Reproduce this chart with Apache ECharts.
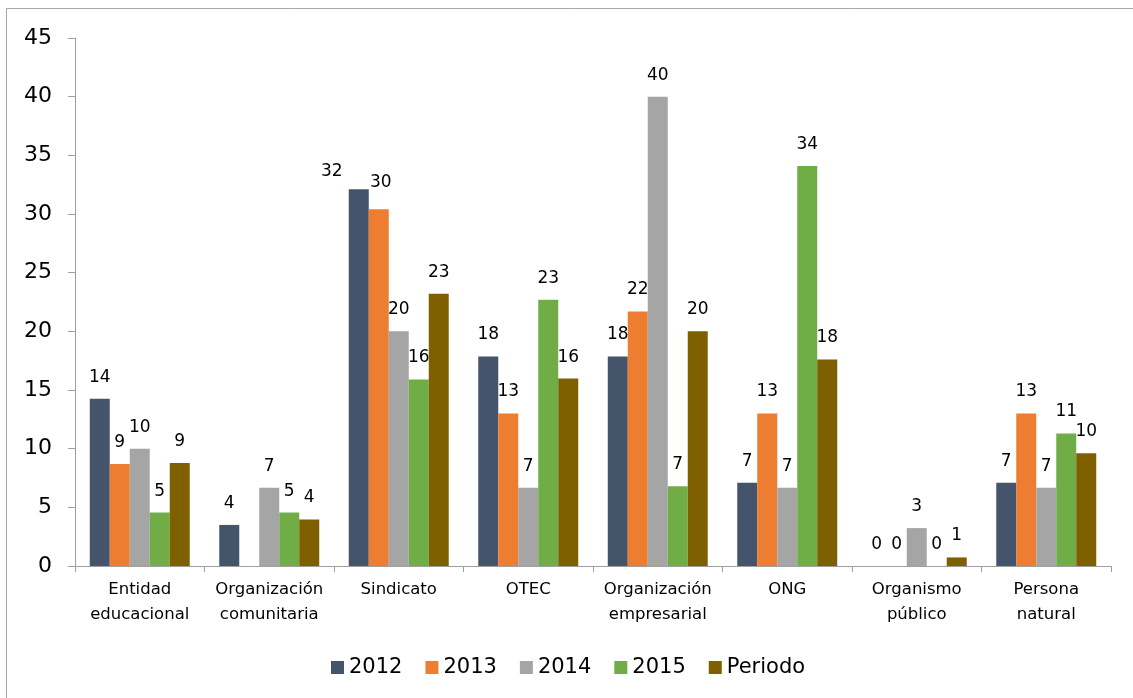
<!DOCTYPE html>
<html>
<head>
<meta charset="utf-8">
<script src="https://cdn.jsdelivr.net/npm/echarts@6/dist/echarts.min.js"></script>
<style>
html,body{margin:0;padding:0;background:#fff;}
#chart{width:1133px;height:698px;}
</style>
</head>
<body>
<div id="chart"></div>
<script>
var categories = ['Entidad\neducacional', 'Organización\ncomunitaria', 'Sindicato', 'OTEC', 'Organización\nempresarial', 'ONG', 'Organismo\npúblico', 'Persona\nnatural'];
var seriesNames = ['2012', '2013', '2014', '2015', 'Periodo'];
var v2012 = [14.25, 3.5, 32.1, 17.85, 17.85, 7.1, 0, 7.1];
var v2013 = [8.7, null, 30.4, 13.0, 21.7, 13.0, 0, 13.0];
var v2014 = [10.0, 6.67, 20.0, 6.67, 40.0, 6.67, 3.23, 6.67];
var v2015 = [4.55, 4.55, 15.9, 22.7, 6.8, 34.1, 0, 11.3];
var vPeriodo = [8.77, 3.97, 23.2, 15.97, 20.0, 17.6, 0.73, 9.6];
var yTicks = [0, 5, 10, 15, 20, 25, 30, 35, 40, 45];

var allValues = [v2012, v2013, v2014, v2015, vPeriodo];
var colors = ['#44546A', '#ED7D31', '#A5A5A5', '#70AD47', '#7F6000'];

var chart = echarts.init(document.getElementById('chart'), null, {renderer: 'canvas'});

function buildData(si) {
  return allValues[si].map(function (v, ci) {
    var item = {value: v};
    if (si === 0 && ci === 2) {
      item.label = {offset: [-27, 4]};
    }
    if (si === 1 && ci === 2) {
      item.label = {offset: [2, -5]};
    }
    return item;
  });
}

var series = seriesNames.map(function (name, si) {
  return {
    name: name,
    type: 'bar',
    barGap: '0%',
    barCategoryGap: '22.8%',
    itemStyle: {color: colors[si]},
    label: {
      show: true,
      position: 'top',
      distance: 13,
      color: '#000',
      fontFamily: 'DejaVu Sans',
      fontSize: 17,
      formatter: function (p) {
        if (p.value === null || p.value === undefined) return '';
        return String(Math.round(p.value));
      }
    },
    data: buildData(si)
  };
});

var option = {
  backgroundColor: '#fff',
  animation: false,
  textStyle: {fontFamily: 'DejaVu Sans'},
  graphic: [{
    type: 'line',
    shape: {x1: 6.5, y1: 8.5, x2: 1133, y2: 8.5},
    style: {stroke: '#A6A6A6', lineWidth: 1},
    silent: true
  }, {
    type: 'line',
    shape: {x1: 6.5, y1: 8.5, x2: 6.5, y2: 698},
    style: {stroke: '#A6A6A6', lineWidth: 1},
    silent: true
  }],
  grid: {left: 75, right: 22, top: 38, bottom: 132, containLabel: false},
  legend: {
    data: seriesNames,
    left: 326,
    top: 652,
    itemWidth: 13,
    itemHeight: 13,
    itemGap: 23,
    icon: 'rect',
    textStyle: {fontFamily: 'DejaVu Sans', fontSize: 21, color: '#000'}
  },
  xAxis: {
    type: 'category',
    data: categories,
    axisLine: {lineStyle: {color: '#A0A0A0', width: 1}},
    axisTick: {show: true, alignWithLabel: false, length: 6, lineStyle: {color: '#A0A0A0'}},
    axisLabel: {
      interval: 0,
      margin: 11,
      color: '#000',
      fontFamily: 'DejaVu Sans',
      fontSize: 16.5,
      lineHeight: 25
    }
  },
  yAxis: {
    type: 'value',
    min: yTicks[0],
    max: yTicks[yTicks.length - 1],
    interval: 5,
    splitLine: {show: false},
    axisLine: {show: true, lineStyle: {color: '#A0A0A0', width: 1}},
    axisTick: {show: true, length: 7, lineStyle: {color: '#A0A0A0'}},
    axisLabel: {
      margin: 23,
      color: '#000',
      fontFamily: 'DejaVu Sans',
      fontSize: 22
    }
  },
  series: series
};

chart.setOption(option);
</script>
</body>
</html>
